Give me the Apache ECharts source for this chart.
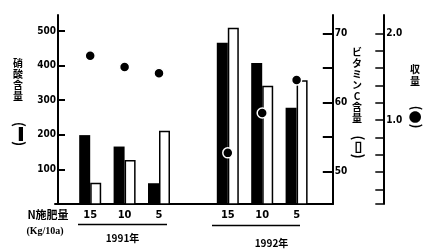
<!DOCTYPE html>
<html><head><meta charset="utf-8">
<script src="https://cdn.jsdelivr.net/npm/echarts@6/dist/echarts.min.js"></script>
<style>html,body{margin:0;padding:0;background:#fff}#c{width:426px;height:250px}</style>
</head><body><div id="c"></div>
<script>
const categories = ['15','10','5','','15','10','5'];
const nitrate = [199,166,60,null,466,407,278];
const vitaminC = [48.4,51.7,55.9,null,70.8,62.4,63.2];
const yieldVals = [1.74,1.61,1.54,null,0.62,1.08,1.46];
const yearLabels = ['1991年','1992年'];
const nitrateLabels = [100,200,300,400,500];
const vitTicks = [50,55,60,65,70];
const vitLabels = [50,60,70];
const yieldTicks = [0.2,0.4,0.6,0.8,1.0,1.2,1.4,1.6,1.8,2.0];
const yieldLabels = [1.0,2.0];

const NUM = "'DejaVu Sans Condensed','Liberation Sans Narrow',sans-serif";
const JP = "'Noto Sans CJK JP',sans-serif";
const chart = echarts.init(document.getElementById('c'));
const txt = (x,y,t,opt,extra) => Object.assign({type:'text',x:x,y:y,style:Object.assign({text:t,fill:'#000',fontFamily:JP,fontWeight:'bold',fontSize:10,align:'center',verticalAlign:'middle'},opt||{})},extra||{});
chart.setOption({
  animation:false,
  backgroundColor:'#fff',
  grid:[
    {left:73,right:112.2,top:15,bottom:46},
    {left:55,right:93,top:15,bottom:46}
  ],
  xAxis:[
    {type:'category',data:categories,gridIndex:0,axisLine:{show:false},axisTick:{show:false},
     axisLabel:{margin:6,color:'#000',fontFamily:NUM,fontWeight:'bold',fontSize:11}},
    {type:'value',gridIndex:1,min:0,max:1,axisLine:{show:true,lineStyle:{color:'#000',width:2}},
     axisTick:{show:false},axisLabel:{show:false},splitLine:{show:false}}
  ],
  yAxis:[
    {type:'value',gridIndex:0,position:'left',offset:15,min:0,max:546,
     axisLine:{show:true,lineStyle:{color:'#000',width:2}},
     axisTick:{show:true,inside:true,length:7,lineStyle:{color:'#000',width:2},customValues:nitrateLabels},
     axisLabel:{color:'#000',margin:2,fontFamily:NUM,fontWeight:'bold',fontSize:10,customValues:nitrateLabels},
     splitLine:{show:false}},
    {type:'value',gridIndex:0,position:'right',offset:19,min:45.33,max:72.64,
     axisLine:{show:true,lineStyle:{color:'#000',width:2}},
     axisTick:{show:true,inside:true,length:10,lineStyle:{color:'#000',width:2},customValues:[45.33].concat(vitTicks)},
     axisLabel:{color:'#000',margin:2,fontFamily:NUM,fontWeight:'bold',fontSize:10,customValues:vitLabels},
     splitLine:{show:false}},
    {type:'value',gridIndex:0,position:'right',offset:69.5,min:0.03,max:2.211,
     axisLine:{show:true,lineStyle:{color:'#000',width:2}},
     axisTick:{show:true,inside:true,length:8,lineStyle:{color:'#000',width:1.5},customValues:[0.03].concat(yieldTicks)},
     axisLabel:{color:'#000',margin:3,fontFamily:NUM,fontWeight:'bold',fontSize:10,customValues:yieldLabels,
       formatter:v=>v.toFixed(1)},
     splitLine:{show:false}},
    {type:'value',gridIndex:1,show:false}
  ],
  series:[
    {type:'bar',xAxisIndex:0,yAxisIndex:0,data:nitrate,barWidth:11,barGap:'0%',
     itemStyle:{color:'#000'}},
    {type:'bar',xAxisIndex:0,yAxisIndex:1,data:vitaminC,barWidth:11,barGap:'0%',
     itemStyle:{color:'#fff',borderColor:'#000',borderWidth:1.5}},
    {type:'scatter',xAxisIndex:0,yAxisIndex:2,data:yieldVals,symbol:'circle',symbolSize:10,
     itemStyle:{color:'#000',opacity:1,borderColor:'#fff',borderWidth:1.5},z:5}
  ],
  graphic:[
    txt(18,80,'硝\n酸\n含\n量',{lineHeight:11}),
    txt(18,134,'(▬)',{fontSize:14},{rotation:Math.PI/2}),
    txt(357,85,'ビ\nタ\nミ\nン\nC\n含\n量',{lineHeight:11}),
    txt(357,147,'(▭)',{fontSize:14},{rotation:Math.PI/2}),
    txt(415,75,'収\n量',{lineHeight:12}),
    txt(415,117,'(●)',{fontSize:13},{rotation:Math.PI/2}),
    txt(48,215,'N施肥量',{fontSize:11}),
    txt(45,231,'(Kg/10a)',{fontSize:10,fontFamily:"'Liberation Serif',serif"}),
    txt(122.5,238,yearLabels[0],{fontSize:10}),
    txt(271.5,243,yearLabels[1],{fontSize:10}),
    {type:'line',shape:{x1:78,y1:224.5,x2:167,y2:224.5},style:{stroke:'#000',lineWidth:1.5}},
    {type:'line',shape:{x1:212,y1:225.5,x2:300,y2:225.5},style:{stroke:'#000',lineWidth:1.5}}
  ]
});
</script></body></html>
